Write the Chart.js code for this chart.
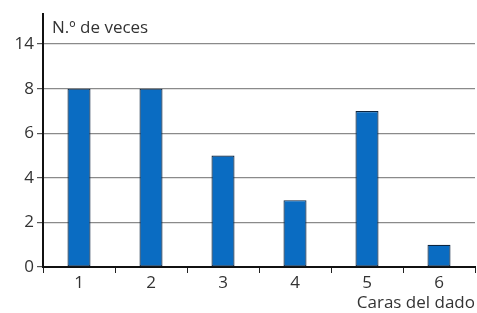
<!DOCTYPE html>
<html>
<head>
<meta charset="utf-8">
<script src="https://cdn.jsdelivr.net/npm/chart.js@4"></script>
<style>
  html, body { margin: 0; padding: 0; background: #fff; }
  #wrap { width: 477px; height: 313px; position: relative; }
</style>
</head>
<body>
<div id="wrap"><canvas id="DadoChart"></canvas></div>
<script>
// Datos //
var caras = ["1", "2", "3", "4", "5", "6"];
var veces = [8, 8, 5, 3, 7, 1];
var yTicks = [0, 2, 4, 6, 8, 10];
// el eje esta cortado: la linea del 10 se rotula como 14
var yLabels = {0: "0", 2: "2", 4: "4", 6: "6", 8: "8", 10: "14"};

var textColor = "#333";
var fontFam = "'Open Sans', sans-serif";
var fontSize = 17;

// Titulo del eje Y dentro del area //
var tituloY = {
    id: "tituloY",
    afterDraw: function(chart) {
        var ctx = chart.ctx;
        var area = chart.chartArea;
        ctx.save();
        ctx.fillStyle = textColor;
        ctx.font = fontSize + "px " + fontFam;
        ctx.textBaseline = "middle";
        ctx.textAlign = "left";
        ctx.fillText("N.º de veces", area.left + 9, 28);
        ctx.restore();
    }
};

var ctx = document.getElementById("DadoChart").getContext("2d");
var chart = new Chart(ctx, {
    type: "bar",
    data: {
        labels: caras,
        datasets: [{
            data: veces,
            backgroundColor: "#0a6cc2",
            borderColor: "#0c2540",
            borderWidth: 1.2,
            borderSkipped: false,
            barPercentage: 0.32,
            categoryPercentage: 1
        }]
    },
    options: {
        responsive: true,
        maintainAspectRatio: false,
        animation: false,
        layout: { padding: { top: 14, right: 2, left: 0, bottom: 0 } },
        plugins: {
            legend: { display: false },
            tooltip: { enabled: false }
        },
        scales: {
            x: {
                grid: {
                    offset: true,
                    drawOnChartArea: false,
                    drawTicks: true,
                    tickLength: 6,
                    color: "#222",
                    lineWidth: 1
                },
                border: { color: "#111", width: 2 },
                ticks: {
                    color: textColor,
                    font: { family: fontFam, size: fontSize },
                    padding: 0
                },
                title: {
                    display: true,
                    text: "Caras del dado",
                    align: "end",
                    color: textColor,
                    font: { family: fontFam, size: fontSize },
                    padding: { top: -2, bottom: 0 }
                },
                afterFit: function(scale) { scale.height = 46; }
            },
            y: {
                min: 0,
                max: 11.35,
                afterBuildTicks: function(scale) {
                    scale.ticks = yTicks.map(function(v) { return { value: v }; });
                },
                grid: {
                    color: "#8a8a8a",
                    lineWidth: 1.2,
                    tickLength: 6,
                    tickColor: "#555"
                },
                border: { color: "#111", width: 2 },
                ticks: {
                    color: textColor,
                    font: { family: fontFam, size: fontSize },
                    padding: 3,
                    callback: function(value) { return yLabels[value]; }
                },
                afterFit: function(scale) { scale.width = 43; }
            }
        }
    },
    plugins: [tituloY]
});
</script>
</body>
</html>
